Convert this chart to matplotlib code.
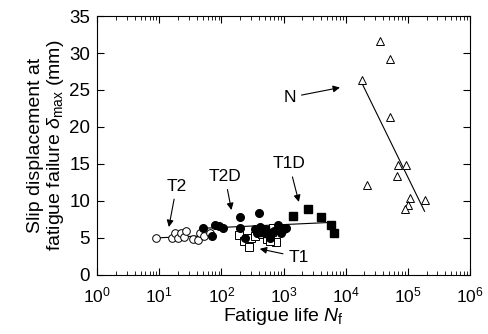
import matplotlib
matplotlib.use("Agg")
from matplotlib import pyplot as plt
from matplotlib.ticker import LogLocator, NullFormatter

plt.rcParams['font.family'] = ['Liberation Sans', 'DejaVu Sans']
plt.rcParams['mathtext.fontset'] = 'custom'
plt.rcParams['mathtext.rm'] = 'Liberation Sans'
plt.rcParams['mathtext.it'] = 'Liberation Sans:italic'

# T2 (open circles)
t2_n = [8.9, 16, 18, 20, 22.5, 25, 27, 35, 42, 45, 53, 65]
t2_s = [5.0, 5.0, 5.6, 5.0, 5.6, 5.1, 5.9, 4.8, 4.7, 5.6, 5.2, 5.6]
# T2D (filled circles)
t2d_n = [50, 70, 78, 90, 105, 200, 200, 240, 400, 350, 420, 500, 600, 700, 800, 900, 1000, 1100, 380, 450]
t2d_s = [6.3, 5.2, 6.8, 6.6, 6.4, 7.8, 6.4, 5.0, 8.4, 6.2, 6.5, 5.8, 5.0, 6.0, 6.7, 5.7, 6.2, 6.3, 5.6, 5.9]
# T1 (open squares)
t1_n = [195, 230, 280, 300, 350, 450, 550, 650, 680, 750, 600]
t1_s = [5.4, 4.6, 3.8, 5.0, 5.3, 5.5, 4.9, 5.8, 6.4, 4.4, 4.6]
# T1D (filled squares)
t1d_n = [1420, 2450, 4050, 5880, 6400, 400, 500, 550]
t1d_s = [7.9, 8.9, 7.8, 6.7, 5.6, 5.8, 6.1, 5.6]
# N (open triangles)
nn_n = [18300, 35200, 52300, 51000, 22000, 69500, 92300, 67000, 108000, 100700, 91000, 191000]
nn_s = [26.4, 31.6, 29.2, 21.3, 12.1, 14.9, 14.9, 13.4, 10.4, 9.4, 8.9, 10.1]

# fitted lines
fit_t2_n, fit_t2_s = [8.9, 60], [5.0, 5.3]
fit_t_n, fit_t_s = [50, 6000], [6.3, 7.1]
fit_nn_n, fit_nn_s = [18300, 186000], [25.9, 8.6]

fig = plt.figure(figsize=(4.88, 3.34), dpi=100)
ax = fig.add_axes([0.199, 0.177, 0.764, 0.775])

ax.plot(fit_t2_n, fit_t2_s, color='k', lw=0.8)
ax.plot(fit_t_n, fit_t_s, color='k', lw=0.8)
ax.plot(fit_nn_n, fit_nn_s, color='k', lw=0.8)

ax.plot(t2_n, t2_s, 'o', mfc='white', mec='k', ms=5.5, mew=0.7)
ax.plot(t1_n, t1_s, 's', mfc='white', mec='k', ms=5.5, mew=0.7)
ax.plot(t2d_n, t2d_s, 'o', mfc='k', mec='k', ms=5.5)
ax.plot(t1d_n, t1d_s, 's', mfc='k', mec='k', ms=5.5)
ax.plot(nn_n, nn_s, '^', mfc='white', mec='k', ms=6, mew=0.7)

arrow = dict(arrowstyle='-|>', color='k', lw=0.8, mutation_scale=10)
fs = 12.5
ax.annotate('T2', xy=(14, 6.1), xytext=(19, 12.0), ha='center', va='center', fontsize=fs, arrowprops=arrow)
ax.annotate('T2D', xy=(148, 8.4), xytext=(114, 13.3), ha='center', va='center', fontsize=fs, arrowprops=arrow)
ax.annotate('T1D', xy=(1810, 9.5), xytext=(1230, 15.0), ha='center', va='center', fontsize=fs, arrowprops=arrow)
ax.annotate('T1', xy=(375, 3.6), xytext=(1750, 2.4), ha='center', va='center', fontsize=fs, arrowprops=arrow)
ax.annotate('N', xy=(8950, 25.4), xytext=(1260, 24.0), ha='center', va='center', fontsize=fs, arrowprops=arrow)

ax.set_xscale('log')
ax.set_xlim(1, 1e6)
ax.set_ylim(0, 35)
ax.set_yticks(range(0, 36, 5))
ax.xaxis.set_major_locator(LogLocator(base=10, numticks=10))
ax.xaxis.set_minor_locator(LogLocator(base=10, subs=range(2, 10), numticks=20))
ax.xaxis.set_minor_formatter(NullFormatter())
ax.tick_params(which='both', direction='in', top=True, right=True)
ax.tick_params(axis='y', labelsize=13.5, pad=5)
ax.tick_params(axis='x', labelsize=12.5, pad=8)
ax.tick_params(which='major', length=5, width=0.8)
ax.tick_params(which='minor', length=3, width=0.6)
for s in ax.spines.values():
    s.set_linewidth(0.8)

ax.set_xlabel('Fatigue life $\\it{N}_\\mathrm{f}$', fontsize=14, labelpad=0)
ax.set_ylabel('Slip displacement at\nfatigue failure $\\it{\\delta}_{\\mathrm{max}}$ (mm)', fontsize=14,
              labelpad=2, linespacing=1.1)

fig.savefig('out.png', dpi=100)
